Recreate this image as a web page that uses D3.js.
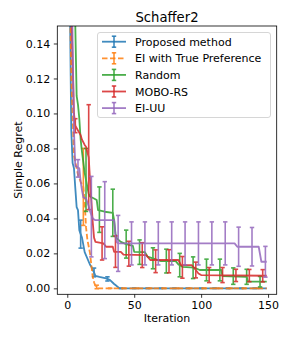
<!DOCTYPE html>
<html>
<head>
<meta charset="utf-8">
<script src="https://cdn.jsdelivr.net/npm/d3@7"></script>
<style>
  body { margin: 0; background: #fff; }
  text { font-family: "DejaVu Sans", sans-serif; fill: #000; }
</style>
</head>
<body>
<script>
// series names, legend order
var seriesNames = ["Proposed method", "EI with True Preference", "Random", "MOBO-RS", "EI-UU"];
var seriesColors = ["#1f77b4", "#ff7f0e", "#2ca02c", "#d62728", "#9467bd"];

// mean simple regret, [iteration, value]
var proposedLine = [[0,0.30],[2,0.16],[3,0.09],[4,0.0716],[5,0.0687],[6,0.0573],[7,0.0465],[8,0.0447],[9,0.0333],
  [10,0.031],[11,0.029],[13,0.0207],[17,0.0135],[18,0.0123],[19,0.0105],[20,0.0091],[21,0.0072],[24,0.0066],
  [29,0.0057],[30,0.0054],[32,0.0047],[35,0.0025],[36,0.0019],[39,0],[149,0]];
var eiTrueLine = [[0,0.30],[2,0.17],[3,0.12],[5,0.076],[8,0.065],[10,0.061],[12,0.058],[13,0.05],[14,0.035],
  [15,0.028],[17,0.02],[19,0.0066],[20,0.0035],[21,0.0015],[23,0],[149,0]];
var randomLine = [[0,0.35],[4,0.2],[6,0.15],[7,0.11],[8,0.105],[9,0.097],[10,0.085],[11,0.078],[12,0.072],
  [13,0.066],[14,0.062],[15,0.058],[16,0.054],[17,0.0525],[20,0.0514],[22,0.0505],[23,0.0447],[28,0.0438],
  [34,0.0432],[35,0.039],[36,0.0314],[37,0.0286],[40,0.0266],[44,0.0253],[49,0.0243],[50,0.0209],[58,0.0207],
  [60,0.0181],[70,0.0156],[81,0.0156],[83,0.0137],[86,0.0123],[95,0.0118],[99,0.0105],[115,0.0105],[116,0.007],
  [134,0.0066],[135,0.0038],[149,0.0038]];
var moboLine = [[0,0.35],[3,0.16],[5,0.1],[6,0.093],[10,0.0876],[11,0.085],[13,0.082],[14,0.081],[16,0.075],
  [17,0.062],[18,0.05],[19,0.038],[20,0.029],[21,0.0266],[27,0.0257],[29,0.0238],[34,0.0238],[35,0.0209],
  [40,0.0209],[42,0.0193],[59,0.019],[62,0.0162],[83,0.0162],[85,0.0133],[93,0.0133],[96,0.0105],[98,0.0085],
  [100,0.0076],[149,0.0072]];
var eiuuLine = [[0,0.30],[3,0.2],[4,0.14],[5,0.09],[6,0.07],[9,0.0686],[10,0.061],[11,0.056],[12,0.052],
  [14,0.0514],[16,0.047],[17,0.044],[19,0.04],[21,0.039],[35,0.039],[36,0.03],[37,0.0265],[38,0.0257],
  [125,0.0257],[127,0.0238],[143,0.0238],[145,0.0152],[149,0.0152]];

// error bars, [iteration, mean, half width]
var proposedBars = [[0,0.3,0.1],[10,0.031,0.008],[20,0.0091,0.0025],[30,0.0054,0.0012],[40,0,0],[50,0,0],
  [60,0,0],[70,0,0],[80,0,0],[90,0,0],[100,0,0],[110,0,0],[120,0,0],[130,0,0],[140,0,0]];
var eiTrueBars = [[2,0.17,0.015],[12,0.058,0.022],[22,0.0008,0.001],[32,0,0],[42,0,0],[52,0,0],[62,0,0],
  [72,0,0],[82,0,0],[92,0,0],[102,0,0],[112,0,0],[122,0,0],[132,0,0],[142,0,0]];
var randomBars = [[4,0.2,0.03],[14,0.062,0.018],[24,0.045,0.013],[34,0.0432,0.0135],[44,0.0253,0.008],
  [54,0.0207,0.007],[64,0.0172,0.006],[74,0.0156,0.0068],[84,0.0133,0.0067],[94,0.0118,0.0062],
  [104,0.0105,0.0062],[114,0.0105,0.0062],[124,0.007,0.0047],[134,0.0066,0.0043],[144,0.0038,0.003]];
var moboBars = [[6,0.093,0.004],[16,0.075,0.03],[26,0.0257,0.0095],[36,0.021,0.009],[46,0.0198,0.0071],
  [56,0.019,0.0071],[66,0.0155,0.0065],[76,0.0155,0.0066],[86,0.012,0.0062],[96,0.0105,0.0045],
  [106,0.0076,0.0043],[116,0.0076,0.0043],[126,0.0074,0.0035],[136,0.0073,0.0035],[146,0.0072,0.0035]];
var eiuuBars = [[8,0.0686,0.005],[18,0.041,0.023],[28,0.039,0.022],[38,0.0257,0.016],[48,0.0257,0.0123],
  [58,0.0257,0.0123],[68,0.0257,0.0123],[78,0.0257,0.0123],[88,0.0257,0.0123],[98,0.0257,0.0123],
  [108,0.0257,0.0123],[118,0.0257,0.0123],[128,0.0238,0.0112],[138,0.0238,0.011],[148,0.0152,0.0088]];

var xTicks = [0, 50, 100, 150];
var yTicks = [0.00, 0.02, 0.04, 0.06, 0.08, 0.10, 0.12, 0.14];

var lines = [proposedLine, eiTrueLine, randomLine, moboLine, eiuuLine];
var bars = [proposedBars, eiTrueBars, randomBars, moboBars, eiuuBars];

var W = 291, H = 339;
var pL = 57.3, pR = 276.7, pT = 26, pB = 294.3;

var svg = d3.select("body").append("svg")
    .attr("width", W)
    .attr("height", H);

var x = d3.scaleLinear().domain([-7.45, 156.45]).range([pL, pR]);
var y = d3.scaleLinear().domain([-0.0034, 0.15]).range([pB, pT]);

svg.append("clipPath").attr("id", "plotclip")
  .append("rect")
    .attr("x", pL).attr("y", pT)
    .attr("width", pR - pL).attr("height", pB - pT);

var plot = svg.append("g").attr("clip-path", "url(#plotclip)");

var line = d3.line()
    .x(function(d) { return x(d[0]); })
    .y(function(d) { return y(d[1]); });

var cap = 2.2;

lines.forEach(function(data, i) {
    var g = plot.append("g").attr("opacity", 0.85);
    var col = seriesColors[i];
    var path = g.append("path")
        .datum(data)
        .attr("d", line)
        .attr("fill", "none")
        .attr("stroke", col)
        .attr("stroke-width", 1.8)
        .attr("stroke-linejoin", "round");
    if (i == 1) path.attr("stroke-dasharray", "5.5,2.5");

    var eb = g.selectAll(".eb" + i).data(bars[i]).enter().append("g");
    eb.append("line")
        .attr("x1", function(d) { return x(d[0]); })
        .attr("x2", function(d) { return x(d[0]); })
        .attr("y1", function(d) { return y(d[1] + d[2]); })
        .attr("y2", function(d) { return y(d[1] - d[2]); })
        .attr("stroke", col).attr("stroke-width", 1.6);
    [1, -1].forEach(function(s) {
        eb.append("line")
            .attr("x1", function(d) { return x(d[0]) - cap; })
            .attr("x2", function(d) { return x(d[0]) + cap; })
            .attr("y1", function(d) { return y(d[1] + s * d[2]); })
            .attr("y2", function(d) { return y(d[1] + s * d[2]); })
            .attr("stroke", col).attr("stroke-width", 1.6);
    });
});

// axes
var xAxis = svg.append("g")
    .attr("transform", "translate(0," + pB + ")")
    .call(d3.axisBottom(x).tickValues(xTicks).tickSize(3.5).tickPadding(3.5));
var yAxis = svg.append("g")
    .attr("transform", "translate(" + pL + ",0)")
    .call(d3.axisLeft(y).tickValues(yTicks).tickFormat(d3.format(".2f")).tickSize(3.5).tickPadding(3.5));

[xAxis, yAxis].forEach(function(a) {
    a.selectAll("text").attr("font-size", 11).attr("font-family", "DejaVu Sans");
    a.select(".domain").remove();
    a.selectAll(".tick line").attr("stroke", "#000").attr("stroke-width", 0.8);
});

svg.append("rect")
    .attr("x", pL).attr("y", pT)
    .attr("width", pR - pL).attr("height", pB - pT)
    .attr("fill", "none")
    .attr("stroke", "#000")
    .attr("stroke-width", 0.8);

// labels
svg.append("text")
    .attr("x", (pL + pR) / 2).attr("y", 22)
    .attr("text-anchor", "middle")
    .attr("font-size", 13.2)
    .text("Schaffer2");

svg.append("text")
    .attr("x", (pL + pR) / 2).attr("y", 321.5)
    .attr("text-anchor", "middle")
    .attr("font-size", 11)
    .text("Iteration");

svg.append("text")
    .attr("transform", "translate(22," + ((pT + pB) / 2) + ") rotate(-90)")
    .attr("text-anchor", "middle")
    .attr("font-size", 11)
    .text("Simple Regret");

// legend
var lg = svg.append("g");
lg.append("rect")
    .attr("x", 97.5).attr("y", 32.5)
    .attr("width", 173).attr("height", 85)
    .attr("rx", 2.5)
    .attr("fill", "#fff").attr("fill-opacity", 0.8)
    .attr("stroke", "#ccc").attr("stroke-width", 0.8);

var item = lg.selectAll(".item").data(seriesNames).enter().append("g")
    .attr("transform", function(d, i) { return "translate(0," + (41.7 + i * 16.6) + ")"; });

item.append("line")
    .attr("x1", 102).attr("x2", 126).attr("y1", 0).attr("y2", 0)
    .attr("stroke", function(d, i) { return seriesColors[i]; })
    .attr("stroke-width", 1.8)
    .attr("stroke-dasharray", function(d, i) { return i == 1 ? "5.5,2.5" : null; })
    .attr("opacity", 0.85);
item.append("line")
    .attr("x1", 114).attr("x2", 114).attr("y1", -5.5).attr("y2", 5.5)
    .attr("stroke", function(d, i) { return seriesColors[i]; })
    .attr("stroke-width", 1.6).attr("opacity", 0.85);
[-5.5, 5.5].forEach(function(o) {
    item.append("line")
        .attr("x1", 114 - cap).attr("x2", 114 + cap).attr("y1", o).attr("y2", o)
        .attr("stroke", function(d, i) { return seriesColors[i]; })
        .attr("stroke-width", 1.6).attr("opacity", 0.85);
});
item.append("text")
    .attr("x", 135).attr("y", 4)
    .attr("font-size", 11)
    .text(function(d) { return d; });
</script>
</body>
</html>
